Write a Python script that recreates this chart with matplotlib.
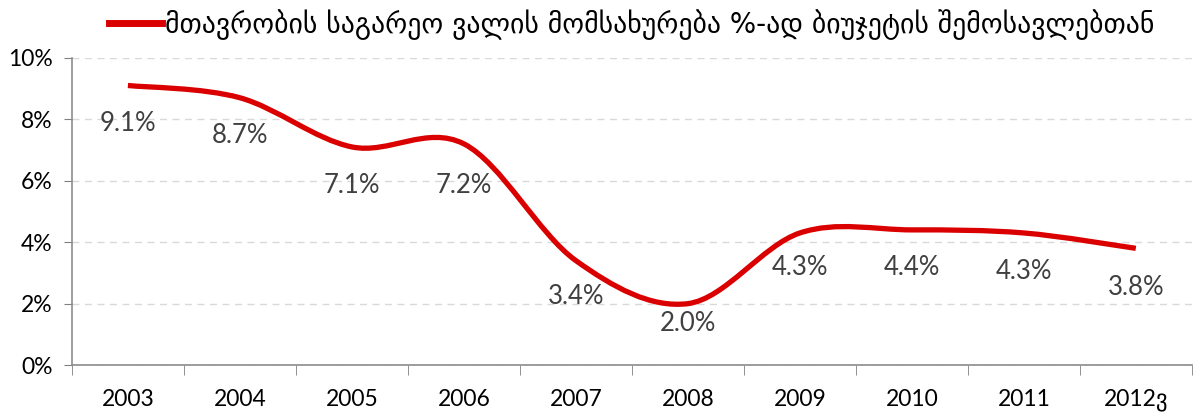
import matplotlib
matplotlib.use("Agg")
import matplotlib.pyplot as plt
from matplotlib.path import Path
from matplotlib.patches import PathPatch
from matplotlib.lines import Line2D
import numpy as np

years = ["2003", "2004", "2005", "2006", "2007", "2008", "2009", "2010", "2011", "2012ვ"]
values = [9.1, 8.7, 7.1, 7.2, 3.4, 2.0, 4.3, 4.4, 4.3, 3.8]
labels = ["9.1%", "8.7%", "7.1%", "7.2%", "3.4%", "2.0%", "4.3%", "4.4%", "4.3%", "3.8%"]
series_name = "მთავრობის საგარეო ვალის მომსახურება %-ად ბიუჯეტის შემოსავლებთან"
yticks = [0, 2, 4, 6, 8, 10]

plt.rcParams['font.family'] = ['Lato', 'DejaVu Sans']

fig = plt.figure(figsize=(11.99, 4.13), dpi=100)
ax = fig.add_axes([0.060, 0.116, 0.934, 0.744])

red = "#DA0000"
x = np.arange(len(values))
y = np.array(values)

# smooth line (Catmull-Rom style bezier, like Excel's smoothed line)
verts = [(x[0], y[0])]
codes = [Path.MOVETO]
n = len(x)
for i in range(n - 1):
    p0 = np.array([x[max(i - 1, 0)], y[max(i - 1, 0)]])
    p1 = np.array([x[i], y[i]])
    p2 = np.array([x[i + 1], y[i + 1]])
    p3 = np.array([x[min(i + 2, n - 1)], y[min(i + 2, n - 1)]])
    c1 = p1 + (p2 - p0) / 6.0
    c2 = p2 - (p3 - p1) / 6.0
    verts += [tuple(c1), tuple(c2), tuple(p2)]
    codes += [Path.CURVE4] * 3
patch = PathPatch(Path(verts, codes), facecolor="none", edgecolor=red, lw=3.8,
                  capstyle="butt", zorder=3)
ax.add_patch(patch)

offsets = [-38, -38, -39, -42, -36, -20, -35, -38, -39, -39]
for xi, yi, lab, off in zip(x, y, labels, offsets):
    ax.annotate(lab, (xi, yi), xytext=(0, off * 72 / 100), textcoords="offset points",
                ha="center", va="center", fontsize=18.5, color="#404040", zorder=4)

ax.set_xlim(-0.5, n - 0.5)
ax.set_ylim(0, 10)
ax.set_yticks(yticks)
ax.set_yticklabels([f"{t}%" for t in yticks], fontsize=16.5, color="#000000")
ax.set_xticks(x)
ax.set_xticklabels(years, fontsize=16.5, color="#000000")
ax.set_xticks(np.arange(-0.5, n, 1.0), minor=True)
ax.tick_params(axis="x", which="major", length=0, pad=17)
ax.tick_params(axis="x", which="minor", length=7, color="#808080", direction="out")
ax.tick_params(axis="y", length=6, color="#808080", direction="out", pad=8)

ax.grid(axis="y", color="#D9D9D9", linestyle=(0, (5, 4)), linewidth=1.0, zorder=0)
for s in ["top", "right"]:
    ax.spines[s].set_visible(False)
for s in ["left", "bottom"]:
    ax.spines[s].set_color("#8C8C8C")
    ax.spines[s].set_linewidth(1.2)

handle = Line2D([0], [0], color=red, lw=5)
fig.legend([handle], [series_name], loc="center", bbox_to_anchor=(0.527, 0.94),
           frameon=False, handlelength=1.9, handletextpad=0.1,
           prop={'family': ['DejaVu Sans'], 'size': 20})

fig.savefig("out.png", dpi=100, facecolor="white")
